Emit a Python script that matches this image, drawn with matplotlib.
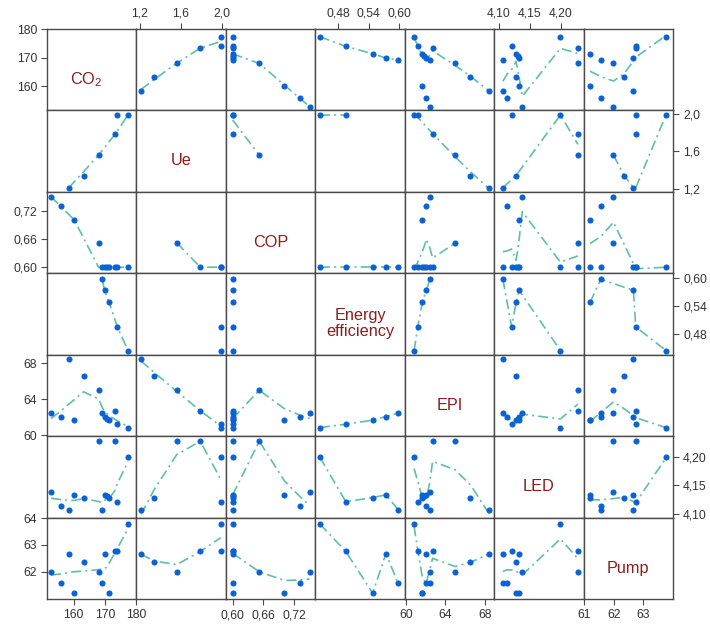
import numpy as np
import matplotlib.pyplot as plt

plt.rcParams['font.family'] = ['Liberation Sans', 'DejaVu Sans']

nan = np.nan

# one row per experiment run, NaN where a variable was not recorded
names = ['CO$_\\mathregular{2}$', 'Ue', 'COP', 'Energy\nefficiency', 'EPI', 'LED', 'Pump']
co2 = [152.8, 155.9, 158.4, 160.2, 163.2, 168.0, 169.2, 169.9, 170.6, 171.4, 173.4, 174.0, 177.4]
ue = [nan, nan, 1.21, nan, 1.34, 1.56, nan, nan, nan, nan, 1.79, 1.99, 1.99]
cop = [0.750, 0.731, nan, 0.701, nan, 0.652, 0.60, 0.60, 0.60, 0.60, 0.60, 0.60, 0.60]
eff = [nan, nan, nan, nan, nan, nan, 0.598, 0.574, nan, 0.548, nan, 0.495, 0.444]
epi = [62.45, 62.05, 68.45, 61.68, 66.55, 65.0, 62.45, 62.08, 61.83, 61.68, 62.72, 61.22, 60.85]
led = [4.138, 4.114, 4.107, 4.133, 4.128, 4.227, 4.107, 4.133, 4.131, 4.128, 4.227, 4.121, 4.199]
pump = [61.99, 61.56, 62.67, 61.19, 62.35, 61.99, 61.56, 62.67, nan, 61.19, 62.75, 62.75, 63.78]

# axis ticks (decimal comma as in the original)
tick_vals = [[160, 170, 180], [1.2, 1.6, 2.0], [0.60, 0.66, 0.72], [0.48, 0.54, 0.60],
             [60, 64, 68], [4.10, 4.15, 4.20], [61, 62, 63]]
tick_text = [['160', '170', '180'], ['1,2', '1,6', '2,0'], ['0,60', '0,66', '0,72'],
             ['0,48', '0,54', '0,60'], ['60', '64', '68'], ['4,10', '4,15', '4,20'],
             ['61', '62', '63']]
pump_yvals = [62, 63, 64]
pump_ytext = ['62', '63', '64']

data = [np.array(v, float) for v in (co2, ue, cop, eff, epi, led, pump)]
lims = [(151.5, 180.1), (1.165, 2.04), (0.587, 0.761), (0.435, 0.611),
        (59.9, 68.95), (4.093, 4.236), (60.97, 64.02)]


# local weighted fit, same as R's lowess
def local_fit(x, y, xs, nleft, nright, rw, userw):
    n = len(x)
    rng = x[-1] - x[0]
    h = max(xs - x[nleft], x[nright] - xs)
    h9, h1 = 0.999 * h, 0.001 * h
    w = np.zeros(n)
    a = 0.0
    j = nleft
    while j < n:
        r = abs(x[j] - xs)
        if r <= h9:
            w[j] = 1.0 if r <= h1 else (1 - (r / h) ** 3) ** 3
            if userw:
                w[j] *= rw[j]
            a += w[j]
        elif x[j] > xs:
            break
        j += 1
    if a <= 0:
        return None
    sl = slice(nleft, j)
    w[sl] /= a
    if h > 0:
        a = np.sum(w[sl] * x[sl])
        b = xs - a
        c = np.sum(w[sl] * (x[sl] - a) ** 2)
        if np.sqrt(c) > 0.001 * rng:
            b /= c
            w[sl] = w[sl] * (b * (x[sl] - a) + 1)
    return np.sum(w[sl] * y[sl])


def lowess(x, y, f=2 / 3, iters=3):
    o = np.argsort(x, kind='stable')
    x, y = x[o], y[o]
    n = len(x)
    if n < 2:
        return x, y.copy()
    ns = max(2, min(n, int(f * n + 1e-7)))
    delta = 0.01 * (x[-1] - x[0])
    ys = np.zeros(n)
    rw = np.ones(n)
    for it in range(iters + 1):
        nleft, nright, last, i = 0, ns - 1, -1, 0
        while True:
            if nright < n - 1 and x[i] - x[nleft] > x[nright + 1] - x[i]:
                nleft += 1
                nright += 1
                continue
            val = local_fit(x, y, x[i], nleft, nright, rw, it > 0)
            ys[i] = y[i] if val is None else val
            if last < i - 1:
                denom = x[i] - x[last]
                for j in range(last + 1, i):
                    al = (x[j] - x[last]) / denom
                    ys[j] = al * ys[i] + (1 - al) * ys[last]
            last = i
            cut = x[last] + delta
            i = last + 1
            while i < n:
                if x[i] > cut:
                    break
                if x[i] == x[last]:
                    ys[i] = ys[last]
                    last = i
                i += 1
            i = max(last + 1, i - 1)
            if last >= n - 1:
                break
        if it == iters:
            break
        r = np.abs(y - ys)
        cmad = 6 * np.median(r)
        # residuals are only rounding noise: the fit already passes the points
        if cmad < 1e-9 * np.abs(y).mean():
            break
        rw = np.where(r <= 0.001 * cmad, 1.0,
                      np.where(r > 0.999 * cmad, 0.0, (1 - (r / cmad) ** 2) ** 2))
    return x, ys


fig = plt.figure(figsize=(7.1, 6.24), dpi=100)
left, right = 47 / 710, 673 / 710
bottom, top = 25 / 624, 595 / 624
nv = len(names)
pw = (right - left) / nv
ph = (top - bottom) / nv

frame_col = '#4a4a4a'
pt_col = '#0b62d4'
ln_col = '#5cc0a8'
lab_col = '#8c1c1c'

for i in range(nv):
    for j in range(nv):
        ax = fig.add_axes([left + j * pw, top - (i + 1) * ph, pw, ph])
        ax.set_xlim(lims[j])
        ax.set_ylim(lims[i])
        for s in ax.spines.values():
            s.set_color(frame_col)
            s.set_linewidth(1.0)
        ax.tick_params(length=4, width=0.8, color=frame_col, labelsize=8.7,
                       labelcolor='#333333', pad=3.2)
        ax.tick_params(bottom=False, top=False, left=False, right=False,
                       labelbottom=False, labeltop=False, labelleft=False, labelright=False)

        if i == j:
            if i == 0:
                ax.text(0.44, 0.38, names[i], transform=ax.transAxes, ha='center',
                        va='center', fontsize=11.7, color=lab_col)
            else:
                ax.text(0.5, 0.38, names[i], transform=ax.transAxes, ha='center',
                        va='center', fontsize=11.7, color=lab_col, linespacing=1.05)
        else:
            x, y = data[j], data[i]
            ok = np.isfinite(x) & np.isfinite(y)
            ax.plot(x[ok], y[ok], 'o', color=pt_col, ms=4.4, mec='none', zorder=3)
            sx, sy = lowess(x[ok], y[ok])
            ax.plot(sx, sy, color=ln_col, lw=1.2, dashes=(6, 2.5, 1.2, 2.5), zorder=2)

        # outer axes alternate like R's pairs()
        if i == 0 and j % 2 == 1:
            ax.set_xticks(tick_vals[j], tick_text[j])
            ax.tick_params(top=True, labeltop=True)
        if i == nv - 1 and j % 2 == 0:
            ax.set_xticks(tick_vals[j], tick_text[j])
            ax.tick_params(bottom=True, labelbottom=True)
        if j == 0 and i % 2 == 0:
            if i == nv - 1:
                ax.set_yticks(pump_yvals, pump_ytext)
            else:
                ax.set_yticks(tick_vals[i], tick_text[i])
            ax.tick_params(left=True, labelleft=True)
        if j == nv - 1 and i % 2 == 1:
            ax.set_yticks(tick_vals[i], tick_text[i])
            ax.tick_params(right=True, labelright=True)

fig.savefig('out.png', dpi=100)
